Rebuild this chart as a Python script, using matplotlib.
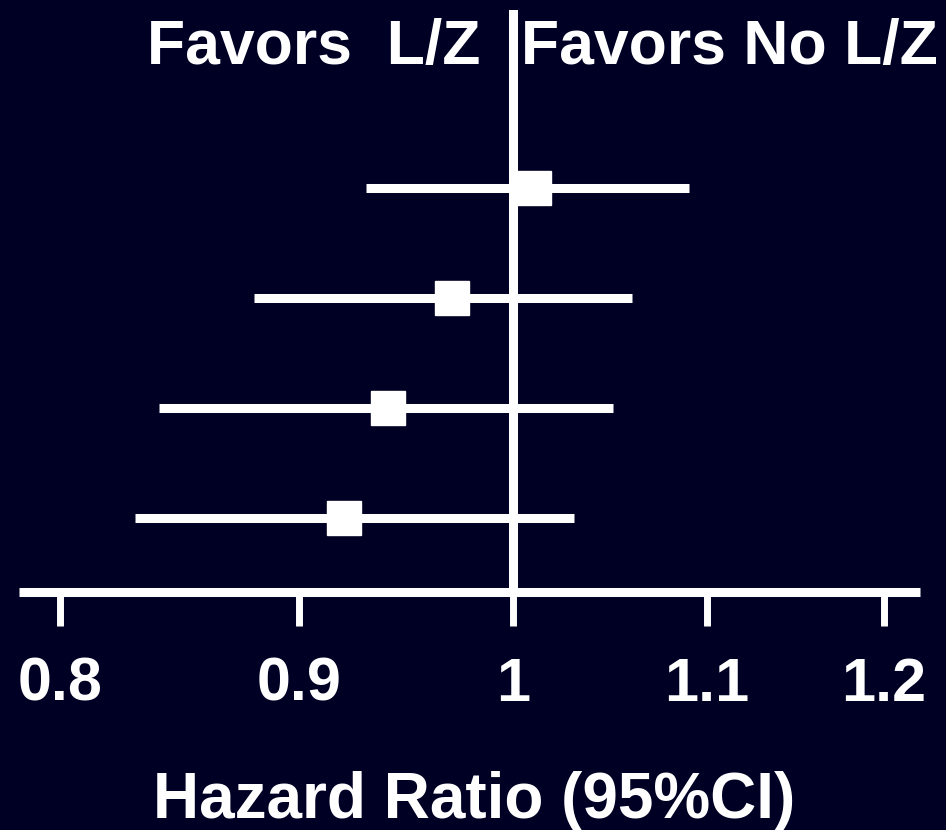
import matplotlib.pyplot as plt

# hazard ratios with 95% CI, top row first
hr = [1.01, 0.97, 0.94, 0.92]
ci_low = [0.93, 0.88, 0.84, 0.83]
ci_high = [1.09, 1.06, 1.05, 1.03]
rows = [0, 1, 2, 3]

tick_vals = [0.8, 0.9, 1, 1.1, 1.2]
tick_labels = ['0.8', '0.9', '1', '1.1', '1.2']

bg = '#000024'
fg = 'white'
plt.rcParams['font.family'] = ['Liberation Sans', 'DejaVu Sans']
plt.rcParams['font.weight'] = 'bold'

W, H = 946, 830
fig = plt.figure(figsize=(W / 100, H / 100), dpi=100, facecolor=bg)
ax = fig.add_axes([19 / W, (H - 592) / H, 901 / W, 582 / H])
ax.set_facecolor(bg)

lw = 6.5
ax.axvline(1, color=fg, lw=lw, zorder=2)
ax.hlines(rows, ci_low, ci_high, color=fg, lw=lw, zorder=3)
ax.plot(hr, rows, 's', color=fg, markersize=24, zorder=4)

ax.set_xscale('log')
ax.set_xlim(0.784, 1.2215)
ax.set_ylim(3.673, -1.618)
ax.set_xticks(tick_vals)
ax.set_xticklabels(tick_labels)
ax.minorticks_off()
ax.set_yticks([])

for s in ['top', 'left', 'right']:
    ax.spines[s].set_visible(False)
ax.spines['bottom'].set_color(fg)
ax.spines['bottom'].set_linewidth(lw)
ax.spines['bottom'].set_capstyle('butt')
ax.tick_params(axis='x', colors=fg, length=24.5, width=5, labelsize=44, pad=22)
for t in ax.get_xticklabels():
    t.set_fontweight('bold')

fig.text(480 / W, (H - 64) / H, 'Favors  L/Z', color=fg, fontsize=45,
         fontweight='bold', ha='right', va='baseline')
fig.text(521 / W, (H - 64) / H, 'Favors No L/Z', color=fg, fontsize=45,
         fontweight='bold', ha='left', va='baseline')
fig.text(474 / W, (H - 818) / H, 'Hazard Ratio (95%CI)', color=fg, fontsize=46,
         fontweight='bold', ha='center', va='baseline')

fig.savefig('out.png', dpi=100, facecolor=bg)
